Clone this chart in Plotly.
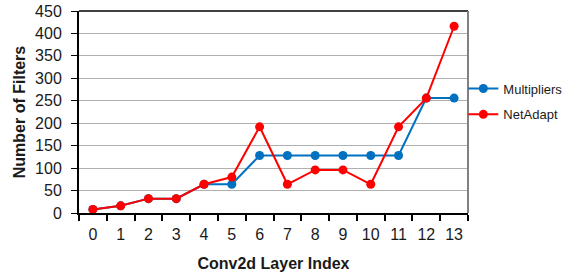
import plotly.graph_objects as go

layers = ["0", "1", "2", "3", "4", "5", "6", "7", "8", "9", "10", "11", "12", "13"]
multipliers = [8, 16, 32, 32, 64, 64, 128, 128, 128, 128, 128, 128, 256, 256]
netadapt = [8, 16, 32, 32, 64, 80, 192, 64, 96, 96, 64, 192, 256, 416]
y_ticks = [0, 50, 100, 150, 200, 250, 300, 350, 400, 450]

fig = go.Figure()
fig.add_trace(go.Scatter(x=layers, y=multipliers, name="Multipliers", mode="lines+markers",
                         legendgroup="m",
                         line=dict(color="#0070C0", width=2), marker=dict(size=9, color="#0070C0")))
fig.add_trace(go.Scatter(x=layers, y=netadapt, name="NetAdapt", mode="lines+markers",
                         legendgroup="n",
                         line=dict(color="#FF0000", width=2), marker=dict(size=9, color="#FF0000")))

fig.update_layout(
    width=564, height=274,
    margin=dict(l=79, r=96, t=11, b=61, autoexpand=False),
    paper_bgcolor="white", plot_bgcolor="white",
    font=dict(family="Liberation Sans, Arial", size=16, color="#1a1a1a"),
    showlegend=True,
    legend=dict(x=0.988, y=0.552, xanchor="left", yanchor="middle",
                traceorder="grouped", tracegroupgap=6, bgcolor="rgba(0,0,0,0)",
                font=dict(size=13, color="#1a1a1a"), itemwidth=30),
    xaxis=dict(type="category", range=[-0.5, 13.5], tickson="boundaries", automargin=False,
               ticks="outside", ticklen=6, tickcolor="black", tickwidth=1.5,
               showline=True, linecolor="black", linewidth=2, mirror=False,
               showgrid=False, tickfont=dict(size=16), ticklabelstandoff=6,
               title=dict(text="<b>Conv2d Layer Index</b>", font=dict(size=16), standoff=16)),
    yaxis=dict(range=[0, 450], tickvals=y_ticks, ticks="outside", ticklen=6, automargin=False,
               tickcolor="black", showline=True, linecolor="black", linewidth=2,
               showgrid=True, gridcolor="#b0b0b0", gridwidth=1.2, zeroline=False,
               tickfont=dict(size=16), ticklabelstandoff=6,
               title=dict(text="<b>Number of Filters</b>", font=dict(size=16), standoff=5)),
    shapes=[
        dict(type="line", xref="paper", yref="paper", x0=0, x1=1, y0=1, y1=1,
             line=dict(color="black", width=1.5)),
        dict(type="line", xref="paper", yref="paper", x0=1, x1=1, y0=0, y1=1,
             line=dict(color="#808080", width=2)),
    ],
)

fig.write_html("out.html", config={"displayModeBar": False},
               post_script="document.body.style.margin='0';")
